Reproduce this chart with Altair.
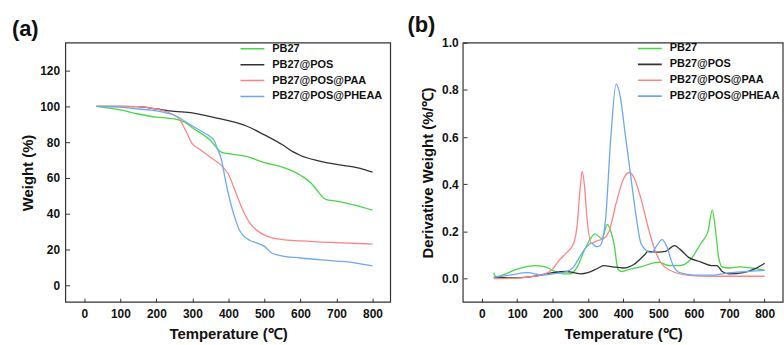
import altair as alt
import pandas as pd

SERIES = ["PB27", "PB27@POS", "PB27@POS@PAA", "PB27@POS@PHEAA"]
COLORS = ["#45d845", "#333333", "#ff8585", "#6ea8f2"]

# ---- TGA (panel a) ----
tga_pb27_t = [34, 100, 150, 200, 250, 280, 300, 350, 380, 400, 450, 500, 550, 600, 630, 650, 670, 700, 750, 800]
tga_pb27_v = [100, 98, 95.7, 93.9, 93, 91, 88, 81, 74.4, 73.5, 72, 68.5, 66, 61.5, 57, 52, 48, 47, 44.8, 42]

tga_pos_t = [34, 100, 150, 200, 250, 300, 350, 400, 450, 500, 550, 580, 600, 650, 700, 750, 780, 800]
tga_pos_v = [100, 100, 99.8, 98.5, 97.2, 96.3, 94.2, 92, 89, 84, 78.5, 74.5, 72.5, 69.5, 67.5, 66, 64.5, 63.2]

tga_paa_t = [34, 150, 200, 240, 265, 280, 300, 320, 350, 380, 400, 420, 440, 460, 480, 500, 550, 600, 700, 800]
tga_paa_v = [100, 99.8, 98.5, 96, 92.5, 87, 79, 76, 71.5, 67, 62, 52, 42, 34.5, 30.5, 28, 25.5, 24.8, 23.8, 23]

tga_pheaa_t = [34, 100, 150, 200, 250, 300, 330, 350, 360, 370, 380, 390, 400, 410, 420, 430, 440, 460, 480, 500, 520, 540, 600, 700, 750, 800]
tga_pheaa_v = [100, 99.5, 98.5, 97.5, 95, 89, 85.5, 83, 81, 76, 70.7, 60.6, 51, 43, 36.5, 31, 28, 25, 23.5, 21.7, 18, 16.7, 15.2, 13.5, 12.5, 10.8]

# ---- DTG (panel b) ----
dtg_pb27_t = [34, 40, 100, 150, 180, 200, 230, 250, 270, 290, 300, 320, 340, 355, 365, 375, 385, 395, 420, 450, 500, 530, 560, 590, 620, 640, 652, 660, 670, 680, 700, 730, 760, 800]
dtg_pb27_v = [0.025, 0.008, 0.04, 0.055, 0.05, 0.035, 0.02, 0.02, 0.05, 0.12, 0.15, 0.19, 0.17, 0.23, 0.2, 0.14, 0.04, 0.03, 0.04, 0.05, 0.07, 0.055, 0.055, 0.08, 0.15, 0.2, 0.29, 0.22, 0.09, 0.05, 0.045, 0.05, 0.045, 0.035]

dtg_pos_t = [34, 100, 150, 200, 240, 260, 280, 300, 330, 345, 370, 400, 430, 460, 470, 500, 520, 545, 560, 585, 620, 650, 665, 680, 700, 740, 770, 800]
dtg_pos_v = [0.005, 0.003, 0.01, 0.025, 0.03, 0.025, 0.02, 0.025, 0.045, 0.055, 0.05, 0.045, 0.06, 0.1, 0.115, 0.112, 0.115, 0.14, 0.125, 0.09, 0.07, 0.055, 0.055, 0.03, 0.02, 0.025, 0.04, 0.065]

dtg_paa_t = [34, 100, 150, 180, 200, 220, 240, 260, 270, 278, 284, 290, 298, 310, 325, 345, 360, 380, 400, 417, 430, 450, 470, 490, 510, 540, 580, 650, 800]
dtg_paa_v = [0.0, 0.002, 0.01, 0.02, 0.04, 0.08, 0.11, 0.15, 0.23, 0.38, 0.455, 0.4, 0.25, 0.15, 0.16, 0.17, 0.2, 0.32, 0.42, 0.45, 0.43, 0.34, 0.22, 0.12, 0.06, 0.03, 0.015, 0.01, 0.01]

dtg_pheaa_t = [34, 80, 130, 170, 200, 240, 260, 280, 300, 310, 325, 335, 350, 365, 380, 392, 405, 420, 435, 450, 465, 480, 495, 510, 522, 540, 560, 600, 650, 700, 750, 800]
dtg_pheaa_v = [0.005, 0.015, 0.025, 0.015, 0.02, 0.03, 0.05, 0.1, 0.14, 0.15, 0.135, 0.14, 0.25, 0.6, 0.825, 0.77, 0.62, 0.45, 0.28, 0.15, 0.12, 0.11, 0.14, 0.165, 0.14, 0.06, 0.025, 0.015, 0.015, 0.025, 0.03, 0.035]


def frame(pairs):
    rows = []
    for i, (ts, vs) in enumerate(pairs):
        for t, v in zip(ts, vs):
            rows.append({"T": t, "v": v, "s": SERIES[i], "o": i})
    return pd.DataFrame(rows)


tga = frame([(tga_pb27_t, tga_pb27_v), (tga_pos_t, tga_pos_v),
             (tga_paa_t, tga_paa_v), (tga_pheaa_t, tga_pheaa_v)])
dtg = frame([(dtg_pb27_t, dtg_pb27_v), (dtg_pos_t, dtg_pos_v),
             (dtg_paa_t, dtg_paa_v), (dtg_pheaa_t, dtg_pheaa_v)])

FONT = "Liberation Sans"


def panel(df, letter, ytitle, ydom, yvals, yfmt, xdom, width, dx, legx, legy, cliph, ylabpad, ytitlepad):
    legend = alt.Legend(
        title=None, orient="none", legendX=legx, legendY=legy,
        symbolType="stroke", symbolSize=576, symbolStrokeWidth=1.6,
        labelFont=FONT, labelFontSize=11, labelFontWeight="bold",
        labelColor="#111", rowPadding=0, clipHeight=cliph, labelOffset=7,
    )
    xs = alt.Scale(domain=xdom, nice=False, zero=False)
    ys = alt.Scale(domain=ydom, nice=False, zero=False)
    lines = alt.Chart(df).mark_line(interpolate="monotone", strokeWidth=1.3).encode(
        x=alt.X("T:Q", scale=xs,
                axis=alt.Axis(title="Temperature (℃)", values=list(range(0, 801, 100)),
                              offset=-4, tickSize=4, labelPadding=6, titlePadding=8)),
        y=alt.Y("v:Q", scale=ys,
                axis=alt.Axis(title=ytitle, values=yvals, format=yfmt,
                              offset=-4, tickSize=4, labelPadding=ylabpad, titlePadding=ytitlepad)),
        color=alt.Color("s:N", scale=alt.Scale(domain=SERIES, range=COLORS), legend=legend),
        order="o:Q",
        detail="s:N",
    )
    box = alt.Chart(pd.DataFrame({"x0": [xdom[0]], "x1": [xdom[1]],
                                  "y0": [ydom[0]], "y1": [ydom[1]]})).mark_rect(
        fill=None, stroke="#333", strokeWidth=1.2
    ).encode(x=alt.X("x0:Q", scale=xs), x2="x1:Q", y=alt.Y("y0:Q", scale=ys), y2="y1:Q")
    return alt.layer(lines, box).properties(
        width=width, height=261,
        title=alt.TitleParams(letter, anchor="start", frame="group", dx=dx, offset=0,
                              font=FONT, fontSize=22, fontWeight="bold", color="#111"),
    )


a = panel(tga, "(a)", "Weight (%)", [-9.5, 135.5], [0, 20, 40, 60, 80, 100, 120], "d",
          [-52, 850], 327, -54, 175, -2, 16, 6, 4)
b = panel(dtg, "(b)", "Derivative Weight (%/℃)", [-0.1, 1.0], [0.0, 0.2, 0.4, 0.6, 0.8, 1.0], ".1f",
          [-53, 852], 322, -56, 175, -2, 15.3, 5, 6)

chart = alt.hconcat(a, b, spacing=73, bounds="flush").resolve_scale(color="independent").configure(
    background="white",
    padding={"left": 12, "top": 13, "right": 0, "bottom": 0},
).configure_view(
    stroke=None,
).configure_axis(
    domain=False, grid=False, tickColor="#333", tickWidth=1,
    labelFont=FONT, labelFontSize=12, labelFontWeight="bold", labelColor="#111",
    titleFont=FONT, titleFontSize=15, titleFontWeight="bold", titleColor="#111",
)

chart.save("out.html", embed_options={"renderer": "svg", "actions": False})
